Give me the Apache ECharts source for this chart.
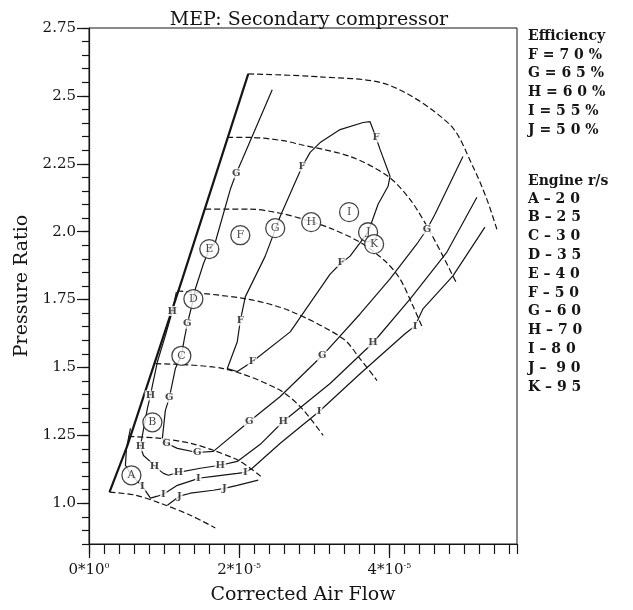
<!DOCTYPE html>
<html><head><meta charset="utf-8">
<script src="https://cdn.jsdelivr.net/npm/echarts@6/dist/echarts.min.js"></script>
<style>html,body{margin:0;padding:0;background:#fff}#c{width:633px;height:610px}</style>
</head><body><div id="c"></div>
<script>
// ---- Data (x in units of 1e-5, y = pressure ratio) ----
const chartTitle = 'MEP: Secondary compressor';
const xAxisName = 'Corrected Air Flow';
const yAxisName = 'Pressure Ratio';
const yTickValues = [1.0, 1.25, 1.5, 1.75, 2.0, 2.25, 2.5, 2.75];
const yTickLabels = ['1.0', '1.25', '1.5', '1.75', '2.0', '2.25', '2.5', '2.75'];
const xTickValues = [0, 2, 4];
const xTickLabels = ['0*10{s|0}', '2*10{s|-5}', '4*10{s|-5}'];

const surgeLine = [[0.273,1.041],[0.512,1.213],[1.243,1.826],[2.121,2.581]];
const maxSpeedLine = [[2.121,2.581],[3.078,2.570],[3.983,2.541],[4.807,2.394],[5.113,2.240],[5.299,2.119],[5.432,2.009]];
const speedLineTop = [[1.842,2.347],[2.148,2.347],[2.586,2.335],[2.812,2.321],[3.477,2.277],[3.983,2.204],[4.275,2.119],[4.501,2.020],[4.714,1.910],[4.900,1.807]];
const speedLineE = [[1.549,2.083],[2.148,2.083],[2.547,2.068],[2.852,2.046],[3.211,2.013],[3.610,1.961],[3.943,1.892],[4.142,1.826],[4.302,1.734],[4.448,1.642]];
const speedLineD = [[1.177,1.782],[2.108,1.752],[2.680,1.708],[3.384,1.606],[3.610,1.532],[3.836,1.452]];
const speedLineC = [[0.884,1.514],[1.789,1.496],[2.507,1.422],[2.812,1.356],[3.118,1.250]];
const speedLineB = [[0.525,1.246],[0.951,1.239],[1.350,1.221],[1.656,1.195],[2.015,1.154],[2.320,1.092]];
const speedLineA = [[0.273,1.041],[0.618,1.030],[0.951,1.000],[1.350,0.956],[1.682,0.909]];

const effF = [[2.746,2.182],[2.547,2.057],[2.347,1.910],[2.081,1.760],[2.015,1.672],[1.975,1.595],[1.842,1.496],[1.975,1.485],[2.174,1.521],[2.680,1.631],[3.211,1.844],[3.344,1.881],[3.477,1.910],[3.717,1.998],[3.850,2.101],[3.983,2.167],[4.009,2.204],[3.876,2.303],[3.823,2.347],[3.743,2.405],[3.650,2.402],[3.344,2.376],[3.078,2.328],[2.945,2.292],[2.839,2.240],[2.746,2.182]];
const effG = [[2.440,2.523],[2.041,2.266],[1.961,2.215],[1.882,2.156],[1.682,1.961],[1.602,1.936],[1.523,1.881],[1.416,1.789],[1.390,1.752],[1.310,1.661],[1.270,1.606],[1.230,1.543],[1.150,1.496],[1.070,1.389],[1.017,1.342],[0.977,1.239],[1.031,1.221],[1.177,1.202],[1.443,1.187],[1.656,1.191],[2.134,1.301],[2.547,1.393],[3.105,1.543],[3.610,1.697],[4.009,1.826],[4.382,1.961],[4.501,2.009],[4.608,2.064],[4.980,2.277]];
const effH = [[1.164,1.778],[1.110,1.708],[1.017,1.617],[0.911,1.521],[0.844,1.433],[0.818,1.397],[0.778,1.349],[0.711,1.250],[0.685,1.210],[0.725,1.176],[0.844,1.147],[0.871,1.136],[0.991,1.110],[1.057,1.103],[1.190,1.114],[1.483,1.129],[1.749,1.140],[1.975,1.154],[2.281,1.217],[2.586,1.301],[3.211,1.441],[3.783,1.591],[4.275,1.752],[4.767,1.925],[5.166,2.127]];
const effI = [[0.552,1.276],[0.499,1.202],[0.485,1.140],[0.565,1.103],[0.711,1.063],[0.818,1.019],[0.911,1.026],[0.991,1.033],[1.177,1.066],[1.390,1.085],[1.456,1.092],[1.656,1.099],[1.975,1.110],[2.081,1.114],[2.174,1.129],[2.547,1.221],[3.065,1.338],[3.610,1.477],[4.209,1.624],[4.342,1.653],[4.448,1.716],[4.847,1.837],[5.273,2.017]];
const effJ = [[1.044,0.993],[1.203,1.026],[1.350,1.037],[1.656,1.048],[1.802,1.055],[1.975,1.066],[2.254,1.085]];

const effLabelF = [[2.839,2.240],[2.015,1.672],[2.174,1.521],[3.358,1.888],[3.823,2.347]];
const effLabelG = [[1.961,2.215],[1.310,1.661],[1.070,1.389],[1.031,1.221],[1.443,1.187],[2.134,1.301],[3.105,1.543],[4.501,2.009]];
const effLabelH = [[1.110,1.708],[0.818,1.397],[0.685,1.210],[0.871,1.136],[1.190,1.114],[1.749,1.140],[2.586,1.301],[3.783,1.591]];
const effLabelI = [[0.711,1.063],[0.991,1.033],[1.456,1.092],[2.081,1.114],[3.065,1.338],[4.342,1.653]];
const effLabelJ = [[1.203,1.026],[1.802,1.055]];

const speedNames = ['A','B','C','D','E','F','G','H','I','J','K'];
const speedCirclePos = [[0.565,1.103],[0.844,1.298],[1.230,1.543],[1.390,1.752],[1.602,1.936],[2.015,1.987],[2.480,2.013],[2.959,2.035],[3.464,2.072],[3.717,1.998],[3.797,1.954]];

const effLegendTitle = 'Efficiency';
const effLegend = ['F = 7 0 %','G = 6 5 %','H = 6 0 %','I = 5 5 %','J = 5 0 %'];
const speedLegendTitle = 'Engine r/s';
const speedLegend = ['A – 2 0','B – 2 5','C – 3 0','D – 3 5','E – 4 0','F – 5 0','G – 6 0','H – 7 0','I – 8 0','J –  9 0','K – 9 5'];

// ---- Styles ----
const INK = '#151515';
const SERIF = '"DejaVu Serif", "Liberation Serif", serif';

function solid(data, w) {
  return { type: 'line', data: data, symbol: 'none', silent: true, z: 2,
    lineStyle: { color: INK, width: w, type: 'solid' } };
}
function dashed(data) {
  return { type: 'line', data: data, symbol: 'none', silent: true, smooth: 0.3, z: 2,
    lineStyle: { color: INK, width: 1.2, type: [6, 3] } };
}
function effLabels(data, letter) {
  return { type: 'scatter', data: data, symbolSize: 1, silent: true, z: 4,
    itemStyle: { color: 'rgba(0,0,0,0)' },
    label: { show: true, position: 'inside', formatter: letter, color: INK,
      fontFamily: SERIF, fontWeight: 'bold', fontSize: 10,
      backgroundColor: '#fff', padding: [0, 1] } };
}

const series = [
  solid(surgeLine, 2.2),
  dashed(maxSpeedLine), dashed(speedLineTop), dashed(speedLineE), dashed(speedLineD),
  dashed(speedLineC), dashed(speedLineB), dashed(speedLineA),
  solid(effF, 1.2), solid(effG, 1.2), solid(effH, 1.2), solid(effI, 1.2), solid(effJ, 1.2),
  effLabels(effLabelF, 'F'), effLabels(effLabelG, 'G'), effLabels(effLabelH, 'H'),
  effLabels(effLabelI, 'I'), effLabels(effLabelJ, 'J'),
  { type: 'scatter', silent: true, z: 5, symbol: 'circle', symbolSize: 19,
    data: speedCirclePos.map((p, i) => ({ name: speedNames[i], value: p })),
    itemStyle: { color: '#fff', borderColor: INK, borderWidth: 1.3 },
    label: { show: true, position: 'inside', formatter: '{b}', color: INK,
      fontFamily: SERIF, fontSize: 11 } }
];

const graphics = [];
const LX = 528;
const LFONT = 'bold 14px ' + SERIF;
graphics.push({ type: 'text', left: LX, top: 29, style: { text: effLegendTitle, font: LFONT, fill: INK } });
effLegend.forEach((t, i) => graphics.push({ type: 'text', left: LX, top: 48 + i * 18.8, style: { text: t, font: LFONT, fill: INK } }));
graphics.push({ type: 'text', left: LX, top: 174, style: { text: speedLegendTitle, font: LFONT, fill: INK } });
speedLegend.forEach((t, i) => graphics.push({ type: 'text', left: LX, top: 192 + i * 18.8, style: { text: t, font: LFONT, fill: INK } }));

const axisLineStyle = { color: INK, width: 1.2 };
const option = {
  backgroundColor: '#fff',
  animation: false,
  title: { text: chartTitle, left: 304, top: 6, textAlign: 'center',
    textStyle: { fontFamily: SERIF, fontWeight: 'normal', fontSize: 19, color: INK } },
  grid: { left: 89, top: 28, right: 116, bottom: 64, show: true, borderColor: INK, borderWidth: 1, containLabel: false },
  xAxis: [
    { type: 'value', min: 0, max: 5.7, interval: 0.2, position: 'bottom',
      axisLine: { show: true, lineStyle: axisLineStyle },
      axisTick: { show: true, length: 10, lineStyle: axisLineStyle },
      axisLabel: { show: false }, splitLine: { show: false },
      name: xAxisName, nameLocation: 'middle', nameGap: 42,
      nameTextStyle: { fontFamily: SERIF, fontSize: 19, color: INK } },
    { type: 'value', min: 0, max: 5.7, position: 'bottom',
      axisLine: { show: false },
      axisTick: { show: true, length: 14, customValues: xTickValues, lineStyle: axisLineStyle },
      axisLabel: { show: true, customValues: xTickValues, margin: 18,
        formatter: (v) => xTickLabels[xTickValues.indexOf(Math.round(v))] || '',
        fontFamily: SERIF, fontSize: 15, color: INK,
        rich: { s: { fontFamily: SERIF, fontSize: 8, color: INK, padding: [0, 0, 9, 0] } } },
      splitLine: { show: false } }
  ],
  yAxis: [
    { type: 'value', min: 0.85, max: 2.75, interval: 0.05, position: 'left',
      axisLine: { show: true, lineStyle: axisLineStyle },
      axisTick: { show: true, length: 7, lineStyle: axisLineStyle },
      axisLabel: { show: false }, splitLine: { show: false },
      name: yAxisName, nameLocation: 'middle', nameGap: 57,
      nameTextStyle: { fontFamily: SERIF, fontSize: 19, color: INK } },
    { type: 'value', min: 0.85, max: 2.75, position: 'left',
      axisLine: { show: false },
      axisTick: { show: true, length: 12, customValues: yTickValues, lineStyle: axisLineStyle },
      axisLabel: { show: true, customValues: yTickValues, margin: 13,
        formatter: (v) => { const k = yTickValues.findIndex(t => Math.abs(t - v) < 1e-6); return k >= 0 ? yTickLabels[k] : ''; },
        fontFamily: SERIF, fontSize: 15, color: INK },
      splitLine: { show: false } }
  ],
  series: series,
  graphic: graphics
};
const chart = echarts.init(document.getElementById('c'));
chart.setOption(option);
</script></body></html>
